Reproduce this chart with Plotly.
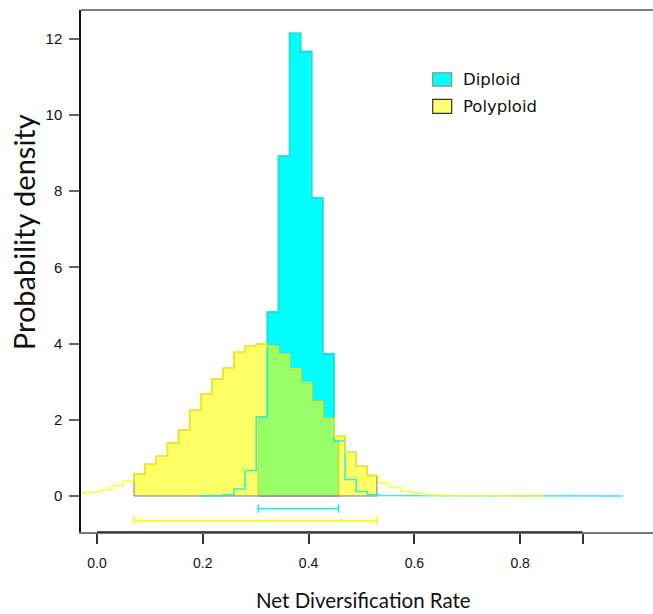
import plotly.graph_objects as go

# ---------------- data ----------------
bin_width = 0.021
poly_start = -0.035          # left edge of first polyploid bin
poly_density = [0.08, 0.105, 0.16, 0.27, 0.40, 0.58, 0.83, 1.04, 1.39, 1.73,
                 2.25, 2.67, 3.07, 3.35, 3.77, 3.93, 3.99, 3.93, 3.72, 3.34,
                 2.97, 2.48, 2.03, 1.57, 1.15, 0.78, 0.54, 0.35, 0.22, 0.12,
                 0.07, 0.03, 0.015, 0.01, 0.005, 0.005, 0.004, 0.003, 0.003,
                 0.002, 0.002, 0.001]
dip_start = 0.196            # left edge of first diploid bin
dip_density = [0.005, 0.008, 0.03, 0.18, 0.67, 2.07, 4.83, 8.92, 12.14, 11.66,
               7.82, 3.73, 1.44, 0.43, 0.12, 0.04, 0.015, 0.006, 0.005, 0.005,
               0.004, 0.004, 0.004, 0.003, 0.003, 0.003, 0.003, 0.002, 0.002,
               0.002, 0.002, 0.002, 0.002, 0.001, 0.001, 0.001, 0.001, 0.001]
poly_hpd = [0.070, 0.529]
dip_hpd = [0.3048, 0.4568]
hpd_bar_y = {"Diploid": -0.33, "Polyploid": -0.645}
x_tick_vals = [0.0, 0.2, 0.4, 0.6, 0.8, 0.918]
x_tick_text = ["0.0", "0.2", "0.4", "0.6", "0.8", ""]
y_tick_vals = [0, 2, 4, 6, 8, 10, 12]
x_range = [-0.0303, 1.0512]
y_range = [-0.945, 12.75]


def edges(start, n):
    return [start + bin_width * i for i in range(n + 1)]


def step_line(start, dens):
    e = edges(start, len(dens))
    xs, ys = [], []
    for i, h in enumerate(dens):
        xs += [e[i], e[i + 1]]
        ys += [h, h]
    return xs, ys


def hpd_polygon(start, dens, lo, hi):
    e = edges(start, len(dens))
    xs, ys = [lo], [0]
    for i, h in enumerate(dens):
        a, b = max(e[i], lo), min(e[i + 1], hi)
        if b <= a:
            continue
        xs += [a, b]
        ys += [h, h]
    xs += [hi, lo]
    ys += [0, 0]
    return xs, ys


CYAN = "#00FFFF"
YELLOW_FILL = "rgba(255,255,0,0.6)"
BORDER = "rgba(110,110,110,0.6)"

fig = go.Figure()

# filled HPD regions
dx, dy = hpd_polygon(dip_start, dip_density, *dip_hpd)
fig.add_trace(go.Scatter(x=dx, y=dy, fill="toself", fillcolor=CYAN, mode="lines",
                         line=dict(color=BORDER, width=1.5), hoverinfo="skip",
                         showlegend=False))
px_, py_ = hpd_polygon(poly_start, poly_density, *poly_hpd)
fig.add_trace(go.Scatter(x=px_, y=py_, fill="toself", fillcolor=YELLOW_FILL, mode="lines",
                         line=dict(color=BORDER, width=1.5), hoverinfo="skip",
                         showlegend=False))

# full histogram outlines
lx, ly = step_line(dip_start, dip_density)
fig.add_trace(go.Scatter(x=lx, y=ly, mode="lines",
                         line=dict(color="rgba(0,240,240,0.85)", width=1.5),
                         showlegend=False, hoverinfo="skip"))
lx, ly = step_line(poly_start, poly_density)
fig.add_trace(go.Scatter(x=lx, y=ly, mode="lines",
                         line=dict(color="rgba(255,255,0,0.8)", width=1.5),
                         showlegend=False, hoverinfo="skip"))

# HPD interval bars
for name, hpd, col in [("Diploid", dip_hpd, "#22EEEE"), ("Polyploid", poly_hpd, "#FFFF00")]:
    fig.add_trace(go.Scatter(x=hpd, y=[hpd_bar_y[name]] * 2, mode="lines+markers",
                             line=dict(color=col, width=1.8),
                             marker=dict(symbol="line-ns", size=6,
                                         line=dict(color=col, width=1.5)),
                             showlegend=False, hoverinfo="skip"))

# legend (manual, R style)
legend_items = [("Diploid", CYAN, "#8a8a8a", 0.8543, 0.8798),
                ("Polyploid", "#FFFF70", "#333333", 0.8020, 0.8288)]
shapes = []
annotations = []
for label, fill, border, y0, y1 in legend_items:
    shapes.append(dict(type="rect", xref="paper", yref="paper", x0=0.6149, x1=0.648,
                       y0=y0, y1=y1, fillcolor=fill, line=dict(color=border, width=1.2)))
    annotations.append(dict(xref="paper", yref="paper", x=0.664, y=(y0 + y1) / 2,
                            text=label, showarrow=False, xanchor="left", yanchor="middle",
                            font=dict(family="DejaVu Sans", size=16.5, color="#111")))

# frame: top line and axis line segment
shapes.append(dict(type="line", xref="paper", yref="paper", x0=0, x1=1, y0=1, y1=1,
                   line=dict(color="#555", width=1.5)))
shapes.append(dict(type="line", xref="x", yref="paper", x0=x_tick_vals[0], x1=x_tick_vals[-1],
                   y0=0, y1=0, line=dict(color="#222", width=1.5)))

annotations.append(dict(xref="paper", yref="paper", x=0.494, y=-0.131,
                        text="Net Diversification Rate", showarrow=False,
                        xanchor="center", yanchor="middle",
                        font=dict(family="Lato", size=20.5, color="#111")))
annotations.append(dict(xref="paper", yref="paper", x=-0.100, y=0.574,
                        text="Probability density", showarrow=False, textangle=-90,
                        xanchor="center", yanchor="middle",
                        font=dict(family="Lato", size=29, color="#111")))

fig.update_layout(
    width=653, height=614,
    margin=dict(l=81, r=0, t=10, b=82, pad=0),
    paper_bgcolor="white", plot_bgcolor="white",
    shapes=shapes, annotations=annotations,
    xaxis=dict(range=x_range, tickvals=x_tick_vals, ticktext=x_tick_text,
               showgrid=False, zeroline=False, showline=True, linecolor="#777",
               linewidth=1.5, ticks="outside", ticklen=10, tickwidth=1.5,
               tickcolor="#333", ticklabelstandoff=7,
               tickfont=dict(family="Liberation Sans, Arial", size=14, color="#111")),
    yaxis=dict(range=y_range, tickvals=y_tick_vals, showgrid=False, zeroline=False,
               showline=True, linecolor="#111", linewidth=1.5, ticks="outside",
               ticklen=10, tickwidth=1.5, tickcolor="#666", ticklabelstandoff=4,
               tickfont=dict(family="Liberation Sans, Arial", size=15, color="#111")),
)

fig.write_html("out.html", config={"displayModeBar": False},
               post_script="document.body.style.margin='0';document.body.style.overflow='hidden';")
